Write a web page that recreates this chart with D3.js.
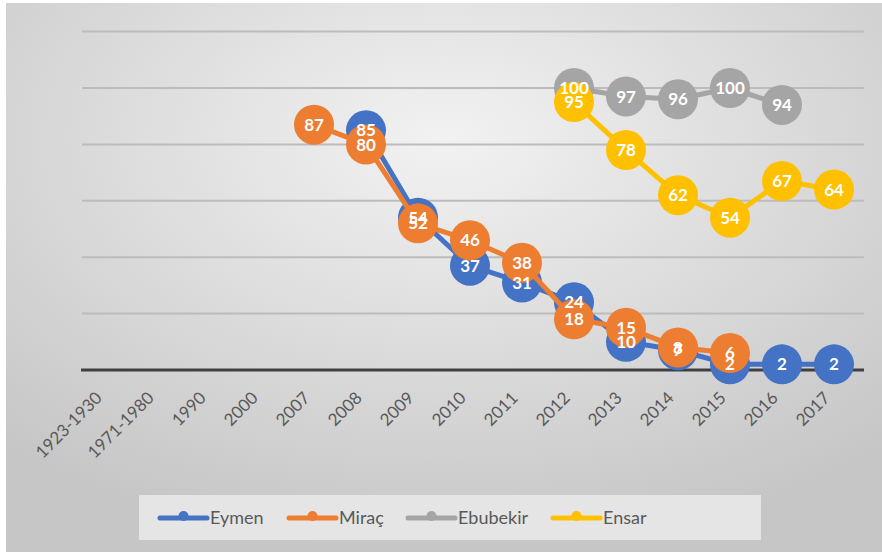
<html>
<head>
<meta charset="utf-8">
<script src="https://d3js.org/d3.v7.min.js"></script>
<style>
  body { margin: 0; background: #fff; }
  text { font-family: Lato, "Open Sans", sans-serif; }
</style>
</head>
<body>
<script>
    var width = 882
    var height = 557

    var categories = ['1923-1930', '1971-1980', '1990', '2000', '2007', '2008', '2009', '2010', '2011', '2012', '2013', '2014', '2015', '2016', '2017']
    var yTicks = [0, 20, 40, 60, 80, 100, 120]

    // null = no value for that year
    var eymen    = [null, null, null, null, null, 85, 54, 37, 31, 24, 10, 7, 2, 2, 2]
    var mirac    = [null, null, null, null, 87, 80, 52, 46, 38, 18, 15, 8, 6, null, null]
    var ebubekir = [null, null, null, null, null, null, null, null, null, 100, 97, 96, 100, 94, null]
    var ensar    = [null, null, null, null, null, null, null, null, null, 95, 78, 62, 54, 67, 64]

    var seriesNames = ['Eymen', 'Miraç', 'Ebubekir', 'Ensar']
    var seriesColors = ['#4472C4', '#ED7D31', '#A5A5A5', '#FFC000']
    var seriesValues = [eymen, mirac, ebubekir, ensar]

    var svg = d3.select('body').append('svg').attr('width', width).attr('height', height)

    var defs = svg.append('defs')
    var grad = defs.append('radialGradient').attr('id', 'bg')
        .attr('cx', '50%').attr('cy', '25%').attr('r', '75%')
    grad.append('stop').attr('offset', '0%').attr('stop-color', '#f2f2f2')
    grad.append('stop').attr('offset', '100%').attr('stop-color', '#c6c6c6')

    svg.append('rect').attr('x', 6).attr('y', 3).attr('width', width - 6).attr('height', 549)
        .attr('fill', 'url(#bg)')

    var x = d3.scaleBand().domain(categories).range([80, 860])
    var y = d3.scaleLinear().domain([0, 120]).range([370, 31.6])

    // gridlines
    svg.append('g').selectAll('line').data(yTicks.slice(1)).enter().append('line')
        .attr('x1', 82).attr('x2', 864)
        .attr('y1', function(d){ return y(d) }).attr('y2', function(d){ return y(d) })
        .attr('stroke', '#bcbcbc').attr('stroke-width', 2)

    // x axis
    var xAxis = svg.append('g').attr('transform', 'translate(0,' + y(0) + ')')
        .call(d3.axisBottom(x).tickSize(0).tickPadding(0))
    xAxis.select('.domain').attr('stroke', '#404040').attr('stroke-width', 3)
        .attr('d', 'M81,0H864')
    xAxis.selectAll('text')
        .attr('fill', '#595959').attr('font-size', 17)
        .attr('text-anchor', 'end')
        .attr('dy', 0).attr('y', 0).attr('x', 0)
        .attr('transform', 'translate(-3,29) rotate(-45)')

    var line = d3.line()
        .defined(function(d){ return d != null })
        .x(function(d, i){ return x(categories[i]) + x.bandwidth() / 2 })
        .y(function(d){ return y(d) })

    seriesValues.forEach(function(vals, s) {
        var g = svg.append('g')
        g.append('path').attr('d', line(vals))
            .attr('fill', 'none').attr('stroke', seriesColors[s]).attr('stroke-width', 5)
            .attr('stroke-linejoin', 'round')
        g.selectAll('circle').data(vals.map(function(v, i){ return {v: v, c: categories[i]} })
                .filter(function(d){ return d.v != null }))
            .enter().append('circle')
            .attr('cx', function(d){ return x(d.c) + x.bandwidth() / 2 })
            .attr('cy', function(d){ return y(d.v) })
            .attr('r', 20).attr('fill', seriesColors[s])
    })

    // data labels on top of everything
    seriesValues.forEach(function(vals, s) {
        svg.append('g').selectAll('text').data(vals.map(function(v, i){ return {v: v, c: categories[i]} })
                .filter(function(d){ return d.v != null }))
            .enter().append('text')
            .attr('x', function(d){ return x(d.c) + x.bandwidth() / 2 })
            .attr('y', function(d){ return y(d.v) })
            .attr('dy', '0.36em')
            .attr('text-anchor', 'middle')
            .attr('fill', 'white').attr('font-size', 17).attr('font-weight', 'bold')
            .text(function(d){ return d.v })
    })

    // legend
    svg.append('rect').attr('x', 139).attr('y', 495).attr('width', 622).attr('height', 45)
        .attr('fill', '#e5e5e5')
    var legendX = [160, 289, 408, 553]
    seriesNames.forEach(function(name, s) {
        var g = svg.append('g').attr('transform', 'translate(' + legendX[s] + ',518)')
        g.append('line').attr('x1', 0).attr('x2', 47).attr('y1', 0).attr('y2', 0)
            .attr('stroke', seriesColors[s]).attr('stroke-width', 5).attr('stroke-linecap', 'round')
        g.append('circle').attr('cx', 23.5).attr('cy', -2).attr('r', 5).attr('fill', seriesColors[s])
        g.append('text').attr('x', 50).attr('y', 0).attr('dy', '0.35em')
            .attr('fill', '#595959').attr('font-size', 18).text(name)
    })
</script>
</body>
</html>
